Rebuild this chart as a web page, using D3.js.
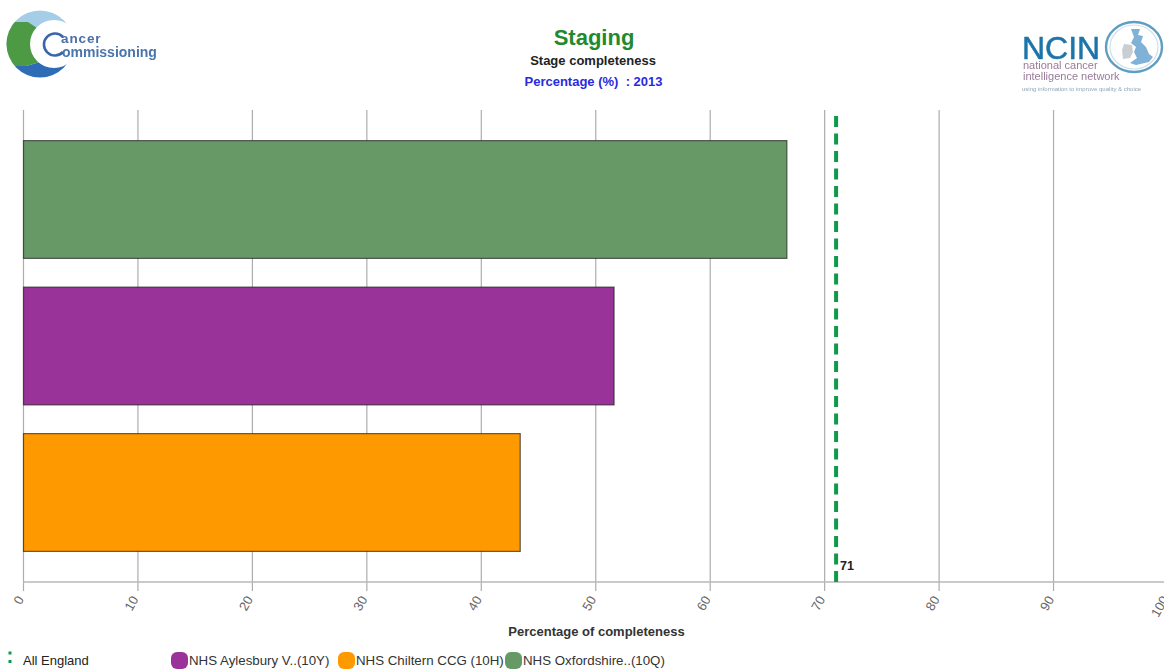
<!DOCTYPE html>
<html>
<head>
<meta charset="utf-8">
<script src="https://cdn.jsdelivr.net/npm/d3@7/dist/d3.min.js"></script>
<style>
html,body{margin:0;padding:0;background:#fff;}
svg{display:block;}
text{font-family:"Liberation Sans",Arial,sans-serif;}
</style>
</head>
<body>
<svg id="chart" width="1164" height="669"></svg>
<script>
// Stage completeness by CCG, top to bottom
const categories = ["NHS Oxfordshire..(10Q)", "NHS Aylesbury V..(10Y)", "NHS Chiltern CCG (10H)"];
const values = [66.7, 51.6, 43.4];
const barColours = ["#669966", "#993399", "#ff9900"];
const legendOrder = [1, 2, 0];
const legendX = [171, 338, 505];
const ticks = [0, 10, 20, 30, 40, 50, 60, 70, 80, 90, 100];
const benchmarkName = "All England";
const benchmark = 71;

const svg = d3.select("#chart");
const x = d3.scaleLinear().domain([0, 100]).range([23.5, 1168]);
const y = d3.scaleBand().domain(categories).range([125, 567]).paddingInner(0.196).paddingOuter(0.1065);

// Gridlines and the tick stubs below the baseline
svg.append("g").selectAll("line").data(ticks).join("line")
  .attr("x1", d => x(d)).attr("x2", d => x(d))
  .attr("y1", 110).attr("y2", 591)
  .attr("stroke", "#adadad").attr("stroke-width", 1.2);

svg.append("line")
  .attr("x1", 23).attr("x2", 1164).attr("y1", 582).attr("y2", 582)
  .attr("stroke", "#b8b8b8").attr("stroke-width", 1.5);

// Bars
svg.append("g").selectAll("rect").data(categories).join("rect")
  .attr("x", x(0))
  .attr("y", d => y(d))
  .attr("width", (d, i) => x(values[i]) - x(0))
  .attr("height", y.bandwidth())
  .attr("fill", (d, i) => barColours[i])
  .attr("stroke", "#222").attr("stroke-opacity", 0.7).attr("stroke-width", 1.2);

// England benchmark, dashed upward from the axis
svg.append("line")
  .attr("x1", x(benchmark)).attr("x2", x(benchmark))
  .attr("y1", 582).attr("y2", 112)
  .attr("stroke", "#0f9a4a").attr("stroke-width", 4)
  .attr("stroke-dasharray", "11 6.5");

svg.append("text")
  .attr("x", x(benchmark) + 4).attr("y", 569.5)
  .attr("font-size", 12.5).attr("font-weight", 700).attr("fill", "#222")
  .text(benchmark);

// Rotated tick labels, ending just left of each gridline
svg.append("g").selectAll("text").data(ticks).join("text")
  .attr("transform", d => `translate(${x(d) - 2},597.5) rotate(-60)`)
  .attr("text-anchor", "end").attr("dominant-baseline", "middle")
  .attr("font-size", 13).attr("fill", "#666")
  .text(d => d);

svg.append("text")
  .attr("x", 596.5).attr("y", 636).attr("text-anchor", "middle")
  .attr("font-size", 13).attr("font-weight", 700).attr("fill", "#333")
  .text("Percentage of completeness");

// Heading
svg.append("text").attr("x", 594).attr("y", 44.5).attr("text-anchor", "middle")
  .attr("font-size", 22).attr("font-weight", 700).attr("fill", "#1f8a2e").text("Staging");
svg.append("text").attr("x", 593).attr("y", 65).attr("text-anchor", "middle")
  .attr("font-size", 13).attr("font-weight", 700).attr("fill", "#222").text("Stage completeness");
svg.append("text").attr("x", 593.5).attr("y", 85.5).attr("text-anchor", "middle")
  .attr("font-size", 13).attr("font-weight", 700).attr("fill", "#2a2ae0").attr("xml:space", "preserve").text("Percentage (%)  : 2013");

// Legend
const legendY = 660;
svg.append("line")
  .attr("x1", 10).attr("x2", 10).attr("y1", 651.5).attr("y2", 665)
  .attr("stroke", "#0f9a4a").attr("stroke-width", 3).attr("stroke-dasharray", "3 5.5");
svg.append("text").attr("x", 23).attr("y", legendY + 4.5)
  .attr("font-size", 13).attr("fill", "#222").text(benchmarkName);

const legend = svg.append("g").selectAll("g").data(legendOrder).join("g")
  .attr("transform", (d, i) => `translate(${legendX[i]},${legendY})`);
legend.append("rect")
  .attr("x", 0).attr("y", -8).attr("width", 17).attr("height", 17).attr("rx", 6)
  .attr("fill", d => barColours[d]);
legend.append("text")
  .attr("x", 18).attr("y", 4.5)
  .attr("font-size", 13.3).attr("fill", "#333")
  .text(d => categories[d]);

// Organisation logos, with soft edges
const defs = svg.append("defs");
defs.append("filter").attr("id", "soft").append("feGaussianBlur").attr("stdDeviation", 0.7);
defs.append("clipPath").attr("id", "ringClip").append("circle").attr("cx", 40).attr("cy", 44).attr("r", 33.5);

const left = svg.append("g").attr("filter", "url(#soft)");
const ring = left.append("g").attr("clip-path", "url(#ringClip)");
ring.append("rect").attr("x", 0).attr("y", 0).attr("width", 80).attr("height", 50).attr("fill", "#a6cde8");
ring.append("path").attr("d", "M0 22 L28 22 L40 30 L40 62 L26 66 L0 66 Z").attr("fill", "#4d9a45");
ring.append("path").attr("d", "M0 66 L26 66 L40 62 L80 50 L80 80 L0 80 Z").attr("fill", "#2f6db5");
left.append("circle").attr("cx", 54).attr("cy", 44).attr("r", 24).attr("fill", "#fff");
left.append("path")
  .attr("d", "M63 37 A11 11 0 1 0 63 52").attr("fill", "none").attr("stroke", "#3a66a8").attr("stroke-width", 2.6);
left.append("text").attr("x", 61).attr("y", 42.5).attr("font-size", 13.5).attr("font-weight", 700)
  .attr("letter-spacing", 0.9).attr("fill", "#4a6fa8").text("ancer");
left.append("text").attr("x", 62).attr("y", 57).attr("font-size", 14).attr("font-weight", 700)
  .attr("fill", "#4a74ad").text("ommissioning");

const right = svg.append("g").attr("filter", "url(#soft)");
right.append("text").attr("x", 1022).attr("y", 59).attr("font-size", 32).attr("fill", "#1d74a8")
  .attr("stroke", "#1d74a8").attr("stroke-width", 0.5).text("NCIN");
right.append("ellipse").attr("cx", 1134).attr("cy", 47).attr("rx", 28).attr("ry", 25)
  .attr("fill", "none").attr("stroke", "#5f9dc2").attr("stroke-width", 2.4);
right.append("ellipse").attr("cx", 1134).attr("cy", 47).attr("rx", 24).attr("ry", 22)
  .attr("fill", "none").attr("stroke", "#cfe0ea").attr("stroke-width", 1.2);
right.append("path")
  .attr("d", "M1131 29 L1140 29 L1138 35 L1143 36 L1141 42 L1146 47 L1149 54 L1153 57 L1149 62 L1136 65 L1130 63 L1137 58 L1134 52 L1136 47 L1131 43 L1134 37 Z")
  .attr("fill", "#7fb2d6");
right.append("path").attr("d", "M1124 44 L1132 45 L1133 52 L1130 58 L1123 59 L1122 50 Z").attr("fill", "#c9ced2");
right.append("text").attr("x", 1023).attr("y", 69).attr("font-size", 11).attr("fill", "#9a7a9a").text("national cancer");
right.append("text").attr("x", 1023).attr("y", 80).attr("font-size", 11).attr("fill", "#9a7a9a").text("intelligence network");
right.append("text").attr("x", 1022).attr("y", 91).attr("font-size", 6).attr("fill", "#8fa6b8").text("using information to improve quality & choice");
</script>
</body>
</html>
